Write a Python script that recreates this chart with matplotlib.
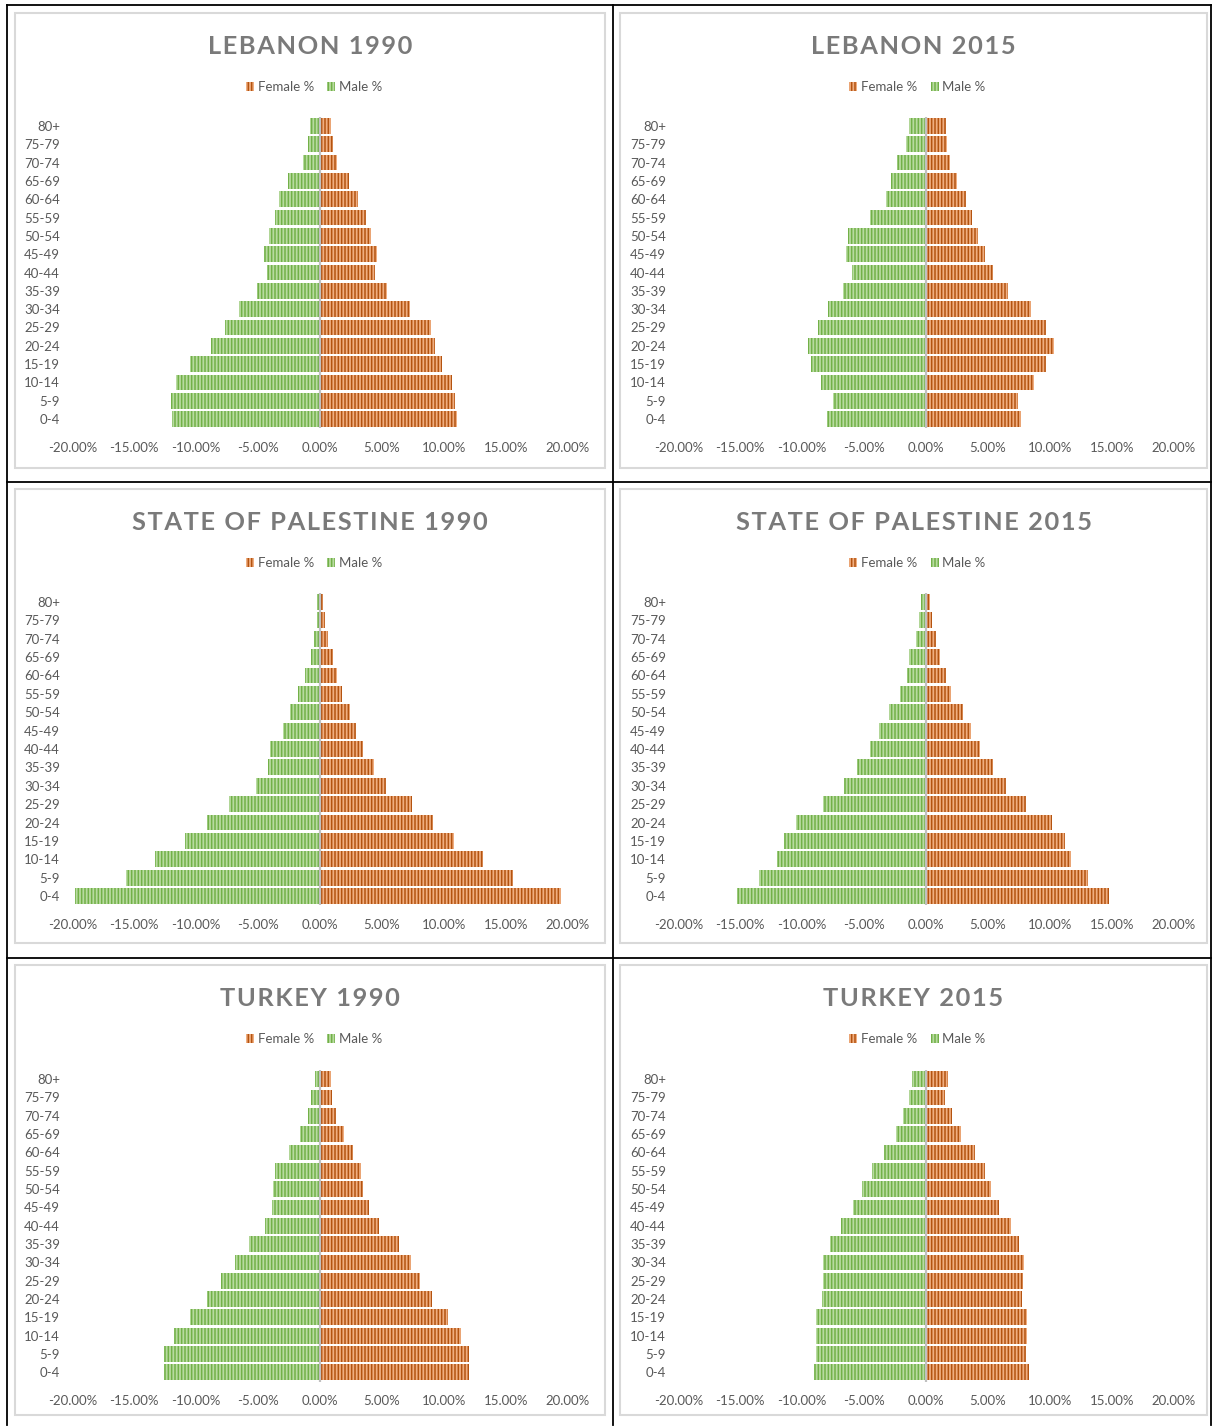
import matplotlib
matplotlib.use("Agg")
import matplotlib.pyplot as plt
from matplotlib.patches import Rectangle
from matplotlib.lines import Line2D
import numpy as np

plt.rcParams['font.family'] = ['Lato', 'DejaVu Sans']
plt.rcParams['hatch.linewidth'] = 1.1

age_groups = ["0-4", "5-9", "10-14", "15-19", "20-24", "25-29", "30-34", "35-39",
              "40-44", "45-49", "50-54", "55-59", "60-64", "65-69", "70-74", "75-79", "80+"]

# Values in percent, ordered from 0-4 up to 80+ (male shown as negative)
lebanon_1990_male = [-11.98, -12.06, -11.6, -10.53, -8.77, -7.69, -6.53, -5.1, -4.3, -4.5, -4.1, -3.6, -3.3, -2.6, -1.4, -1.0, -0.8]
lebanon_1990_female = [11.07, 10.93, 10.63, 9.85, 9.26, 8.93, 7.26, 5.4, 4.45, 4.6, 4.1, 3.7, 3.1, 2.35, 1.4, 1.05, 0.9]

lebanon_2015_male = [-8.0, -7.5, -8.5, -9.3, -9.55, -8.75, -7.9, -6.7, -6.0, -6.5, -6.3, -4.55, -3.25, -2.85, -2.35, -1.6, -1.4]
lebanon_2015_female = [7.7, 7.45, 8.75, 9.7, 10.3, 9.7, 8.5, 6.6, 5.4, 4.8, 4.2, 3.7, 3.25, 2.5, 1.95, 1.7, 1.6]

palestine_1990_male = [-19.8, -15.7, -13.3, -10.9, -9.15, -7.35, -5.2, -4.2, -4.0, -3.0, -2.45, -1.8, -1.2, -0.75, -0.5, -0.25, -0.25]
palestine_1990_female = [19.5, 15.6, 13.2, 10.85, 9.15, 7.45, 5.35, 4.4, 3.5, 2.9, 2.45, 1.8, 1.4, 1.05, 0.65, 0.4, 0.25]

palestine_2015_male = [-15.3, -13.45, -12.05, -11.5, -10.5, -8.35, -6.65, -5.6, -4.55, -3.8, -3.0, -2.1, -1.55, -1.4, -0.8, -0.55, -0.4]
palestine_2015_female = [14.8, 13.05, 11.75, 11.2, 10.2, 8.1, 6.5, 5.4, 4.4, 3.65, 3.0, 2.0, 1.6, 1.15, 0.8, 0.5, 0.35]

turkey_1990_male = [-12.6, -12.6, -11.8, -10.5, -9.15, -8.0, -6.9, -5.75, -4.45, -3.9, -3.8, -3.65, -2.5, -1.6, -1.0, -0.75, -0.4]
turkey_1990_female = [12.0, 12.0, 11.4, 10.35, 9.05, 8.1, 7.35, 6.4, 4.8, 3.95, 3.5, 3.3, 2.65, 1.95, 1.3, 1.0, 0.9]

turkey_2015_male = [-9.06, -8.87, -8.87, -8.87, -8.38, -8.3, -8.3, -7.74, -6.85, -5.9, -5.15, -4.35, -3.43, -2.43, -1.87, -1.38, -1.1]
turkey_2015_female = [8.28, 8.1, 8.15, 8.15, 7.75, 7.83, 7.88, 7.5, 6.83, 5.89, 5.27, 4.73, 3.92, 2.82, 2.12, 1.55, 1.74]

titles = ["LEBANON 1990", "LEBANON 2015", "STATE OF PALESTINE 1990",
          "STATE OF PALESTINE 2015", "TURKEY 1990", "TURKEY 2015"]
males = [lebanon_1990_male, lebanon_2015_male, palestine_1990_male,
         palestine_2015_male, turkey_1990_male, turkey_2015_male]
females = [lebanon_1990_female, lebanon_2015_female, palestine_1990_female,
           palestine_2015_female, turkey_1990_female, turkey_2015_female]
x_ticks = [-20, -15, -10, -5, 0, 5, 10, 15, 20]

W, H = 1213, 1426
fig = plt.figure(figsize=(W / 100, H / 100), dpi=100)
fig.patch.set_facecolor('white')

def fx(p):
    return p / W

def fy(p):
    return 1 - p / H

# table grid lines
col_edges = [7, 613, 1211]
row_edges = [5, 482, 958, 1425]
for x in col_edges:
    fig.add_artist(Line2D([fx(x), fx(x)], [fy(row_edges[0]), fy(row_edges[-1])],
                          transform=fig.transFigure, color='black', lw=1.3))
for y in row_edges[:-1]:
    fig.add_artist(Line2D([fx(col_edges[0]), fx(col_edges[-1])], [fy(y), fy(y)],
                          transform=fig.transFigure, color='black', lw=1.3))

frame_cols = [(15, 605), (620, 1207)]
frame_rows = [(13, 468), (489, 943), (965, 1415)]
ax_cols = [(72.4, 567.6), (678.4, 1173.6)]
ax_rows = [(116.8, 428.2), (592.8, 905.2), (1070.0, 1381.5)]

MALE_FACE, MALE_HATCH = '#b8dba0', '#72b048'
FEM_FACE, FEM_HATCH = '#f0ae80', '#b35310'

def spaced(s):
    return '\u200a'.join(s)

y = np.arange(len(age_groups))
for i in range(6):
    r, c = divmod(i, 2)
    fl, fr = frame_cols[c]
    ft, fb = frame_rows[r]
    fig.add_artist(Rectangle((fx(fl), fy(fb)), fx(fr) - fx(fl), fy(ft) - fy(fb),
                             transform=fig.transFigure, fill=False,
                             edgecolor='#d9d9d9', lw=1.5))
    x0, x1 = ax_cols[c]
    y0, y1 = ax_rows[r]
    ax = fig.add_axes([fx(x0), fy(y1), fx(x1) - fx(x0), fy(y0) - fy(y1)])
    ax.set_facecolor('none')
    bf = ax.barh(y, females[i], height=0.86, color=FEM_FACE, edgecolor=FEM_HATCH,
                 hatch='|||||', linewidth=0, label='Female %')
    bm = ax.barh(y, males[i], height=0.86, color=MALE_FACE, edgecolor=MALE_HATCH,
                 hatch='|||||', linewidth=0, label='Male %')
    ax.axvline(0, color='#c0c0c0', lw=1.6, zorder=3)
    ax.set_xlim(-20, 20)
    ax.set_ylim(-0.5, len(age_groups) - 0.5)
    ax.set_yticks(y)
    ax.set_yticklabels(age_groups)
    ax.set_xticks(x_ticks)
    ax.set_xticklabels([f"{v:.2f}%" for v in x_ticks])
    ax.tick_params(axis='both', length=0, labelsize=9.5, labelcolor='#595959')
    ax.tick_params(axis='y', pad=9)
    ax.tick_params(axis='x', pad=10)
    for s in ax.spines.values():
        s.set_visible(False)
    cx = (fl + fr) / 2
    fig.text(fx(cx), fy(ft + 33), spaced(titles[i]), ha='center', va='center',
             fontsize=18.3, fontweight='bold', color='#7a7a7a')
    ax.legend(handles=[bf, bm], loc='center', ncol=2,
              bbox_to_anchor=(fx(cx + 4), fy(ft + 74)), bbox_transform=fig.transFigure,
              frameon=False, fontsize=9.5, labelcolor='#595959',
              handlelength=0.6, handleheight=0.6, handletextpad=0.3,
              columnspacing=1.0, borderpad=0)

fig.savefig('out.png', dpi=100, facecolor='white')
